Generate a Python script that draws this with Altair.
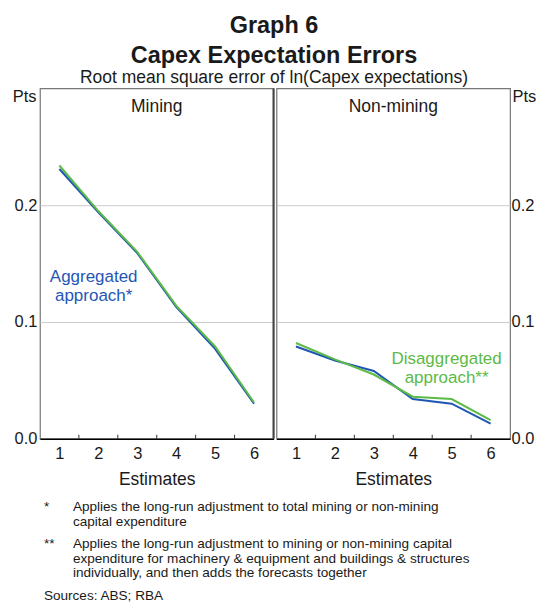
import altair as alt
import pandas as pd

# ---- data ----
estimates = [1, 2, 3, 4, 5, 6]
mining_aggregated = [0.231, 0.194, 0.159, 0.113, 0.077, 0.030]
mining_disaggregated = [0.234, 0.195, 0.160, 0.114, 0.079, 0.031]
nonmining_aggregated = [0.079, 0.067, 0.058, 0.034, 0.030, 0.013]
nonmining_disaggregated = [0.082, 0.068, 0.055, 0.036, 0.034, 0.016]
panels = ["Mining", "Non-mining"]
series = ["Aggregated approach*", "Disaggregated approach**"]
y_ticks = [0.0, 0.1, 0.2]
label_pos = {"Mining": (1.88, 0.134, 0), "Non-mining": (4.87, 0.064, 1)}

footnote_marks = ["*", "**"]
footnote_texts = [
    ["Applies the long-run adjustment to total mining or non-mining",
     "capital expenditure"],
    ["Applies the long-run adjustment to mining or non-mining capital",
     "expenditure for machinery & equipment and buildings & structures",
     "individually, and then adds the forecasts together"],
]
sources = "Sources:  ABS; RBA"

BLUE = "#1f56b3"
GREEN = "#5cba47"
TXT = "#1a1a1a"
FONT = "Liberation Sans"
W = 234
H = 351


def panel(name, agg, dis, orient):
    df = pd.DataFrame({
        "est": estimates * 2,
        "val": agg + dis,
        "series": [series[0]] * len(estimates) + [series[1]] * len(estimates),
    })
    if orient == "left":
        title_kw = dict(titleX=-4, titleAlign="right", labelPadding=3)
    else:
        title_kw = dict(titleX=2, titleAlign="left", labelPadding=1)
    x = alt.X("est:Q",
              scale=alt.Scale(domain=[0.5, 6.5], nice=False, zero=False),
              axis=alt.Axis(values=estimates, format="d", ticks=False, tickSize=0,
                            grid=False, domainColor="black", domainWidth=1.5,
                            labelFontSize=16.5, labelPadding=7, labelColor=TXT,
                            labelFont=FONT, title="Estimates", titleFontSize=17.5,
                            titleFontWeight="normal", titleColor=TXT, titleFont=FONT,
                            titlePadding=8))
    y = alt.Y("val:Q",
              scale=alt.Scale(domain=[0, 0.3], nice=False),
              axis=alt.Axis(orient=orient, values=y_ticks, format=".1f",
                            ticks=False, tickSize=0, domain=False,
                            gridColor="#cccccc", gridWidth=1,
                            labelFontSize=16.5, labelColor=TXT, labelFont=FONT,
                            title="Pts", titleAngle=0, titleFontSize=16.5,
                            titleFontWeight="normal", titleColor=TXT, titleFont=FONT,
                            titleY=0, titleBaseline="top", **title_kw))
    lines = alt.Chart(df).mark_line(strokeWidth=2).encode(
        x=x, y=y,
        color=alt.Color("series:N", scale=alt.Scale(domain=series, range=[BLUE, GREEN]),
                        legend=None),
    )
    ticks_df = pd.DataFrame({"t": [e + 0.5 for e in estimates[:-1]]})
    ticks = alt.Chart(ticks_df).mark_rule(color="#333333", strokeWidth=1).encode(
        x=alt.X("t:Q", title="Estimates"),
        y=alt.value(H), y2=alt.value(H - 4),
    )
    name_df = pd.DataFrame({"panel": [name]})
    ptitle = alt.Chart(name_df).mark_text(fontSize=17.5, font=FONT, color=TXT,
                                          baseline="alphabetic").encode(
        text="panel:N", x=alt.value(W / 2), y=alt.value(24))
    lx, ly, si = label_pos[name]
    lab_df = pd.DataFrame({"x": [lx], "y": [ly], "label": [series[si].replace(" ", "\n")]})
    label = alt.Chart(lab_df).mark_text(fontSize=17, font=FONT,
                                        color=[BLUE, GREEN][si], lineBreak="\n",
                                        lineHeight=19, baseline="alphabetic",
                                        align="center").encode(
        x="x:Q", y="y:Q", text="label:N")
    layers = [ticks, lines, ptitle, label]
    if orient == "left":
        div = alt.Chart(name_df).mark_rule(color="#444444", strokeWidth=2).encode(
            x=alt.value(W), y=alt.value(0), y2=alt.value(H))
        layers.append(div)
    return alt.layer(*layers).properties(width=W, height=H)


left = panel(panels[0], mining_aggregated, mining_disaggregated, "left")
right = panel(panels[1], nonmining_aggregated, nonmining_disaggregated, "right")
top = alt.hconcat(left, right, spacing=0)

# footnotes
FW = 2 * W
rows = []
yb = 21
for m, lines_ in zip(footnote_marks, footnote_texts):
    rows.append({"x": 4, "y": yb, "t": m})
    for i, ln in enumerate(lines_):
        rows.append({"x": 33, "y": yb + i * 15, "t": ln})
    yb += len(lines_) * 15 + 7
rows.append({"x": 4, "y": yb + 1, "t": sources})
fn_df = pd.DataFrame(rows)
FH = 110
foot = alt.Chart(fn_df).mark_text(fontSize=13.6, font=FONT, color=TXT, align="left",
                                  baseline="alphabetic").encode(
    x=alt.X("x:Q", scale=alt.Scale(domain=[0, FW], range=[0, FW]), axis=None),
    y=alt.Y("y:Q", scale=alt.Scale(domain=[0, FH], range=[0, FH]), axis=None),
    text="t:N",
).properties(width=FW, height=FH, view=alt.ViewBackground(stroke="transparent"))

chart = alt.vconcat(top, foot, spacing=0).properties(
    title=alt.TitleParams(
        text=["Graph 6", "Capex Expectation Errors"],
        subtitle="Root mean square error of ln(Capex expectations)",
        fontSize=23.5, font=FONT, fontWeight="bold", color=TXT, lineHeight=30,
        subtitleFontSize=17.5, subtitleFont=FONT, subtitleColor=TXT,
        subtitlePadding=2, anchor="middle", offset=0,
    ),
    padding={"left": 3, "right": 0, "top": 5, "bottom": 0},
).configure_view(stroke="#777777", strokeWidth=1.2).configure_concat(spacing=0)

chart.save("out.html", embed_options={"renderer": "svg", "actions": False})
